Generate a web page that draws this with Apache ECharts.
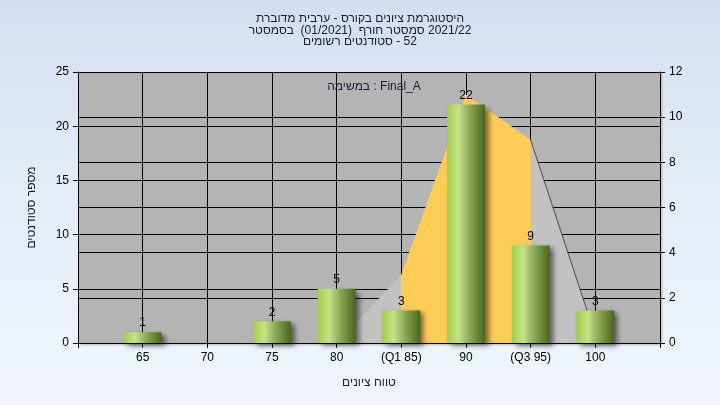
<!DOCTYPE html>
<html>
<head>
<meta charset="utf-8">
<script src="https://cdn.jsdelivr.net/npm/echarts@6/dist/echarts.min.js"></script>
<style>
html,body{margin:0;padding:0;}
#c{width:720px;height:405px;background:linear-gradient(180deg,#d3dff0 0%,#e4edf8 50%,#f1f6fc 100%);}
</style>
</head>
<body>
<div id="c"></div>
<script>
// ---- data ----
var grades = [65, 70, 75, 80, 85, 90, 95, 100];
var counts = [1, 0, 2, 5, 3, 22, 9, 3];
var xTickValues = [65, 70, 75, 80, 85, 90, 95, 100];
var xTickLabels = ['65', '70', '75', '80', '(Q1 85)', '90', '(Q3 95)', '100'];
var curveX = [80, 85, 90, 95, 100];
var curveY = [0, 6.27, 22.9, 18.73, 0.68];
var iqrX = [85, 90, 95];
var iqrY = [6.27, 22.9, 18.73];
var tailX = [95, 100];
var tailY = [18.73, 0.68];
var LRM = '\u200E';
var titleLines = [
  'היסטוגרמת ציונים בקורס - ערבית מדוברת',
  'בסמסטר' + LRM + '  (01/2021)  סמסטר חורף' + LRM + ' 2021/22',
  'סטודנטים רשומים' + LRM + ' - 52'
];
var subText = 'במשימה : Final_A';
var xName = 'טווח ציונים';
var yName = 'מספר סטודנטים';

function pairs(xs, ys) { return xs.map(function (x, i) { return [x, ys[i]]; }); }
var barData = [];
grades.forEach(function (g, i) { if (counts[i] > 0) barData.push([g, counts[i]]); });
var titleText = titleLines.map(function (s) { return LRM + s; }).join('\n');

var FONT = 'Liberation Sans, Arial, sans-serif';
var chart = echarts.init(document.getElementById('c'), null, {renderer: 'canvas'});

chart.setOption({
  backgroundColor: 'transparent',
  animation: false,
  title: [{
    text: titleText,
    left: 'center', top: 8,
    textStyle: {fontFamily: FONT, fontSize: 12, fontWeight: 'normal', color: '#1a1a30', lineHeight: 11.5}
  }, {
    text: LRM + subText,
    left: 369, top: 76, textAlign: 'center',
    textStyle: {fontFamily: FONT, fontSize: 12, fontWeight: 'normal', color: '#1a1a30'}
  }],
  grid: {
    left: 78, right: 60, top: 72, bottom: 62,
    show: true, backgroundColor: '#b4b4b4', borderWidth: 0,
    shadowColor: 'rgba(0,0,0,0.25)', shadowOffsetX: 2, shadowOffsetY: 2, shadowBlur: 2
  },
  xAxis: {
    type: 'value', min: 60, max: 105, interval: 5,
    name: xName, nameLocation: 'middle', nameGap: 34,
    nameTextStyle: {fontFamily: FONT, fontSize: 12, color: '#1a1a30'},
    axisLine: {show: true, lineStyle: {color: '#000', width: 1}},
    axisTick: {show: true, length: 5, lineStyle: {color: '#000'}},
    axisLabel: {
      fontFamily: FONT, fontSize: 12, color: '#000', margin: 9,
      formatter: function (v) { var i = xTickValues.indexOf(v); return i >= 0 ? xTickLabels[i] : ''; }
    },
    splitLine: {show: true, lineStyle: {color: '#000', width: 1}}
  },
  yAxis: [{
    type: 'value', min: 0, max: 25, interval: 5, position: 'left',
    name: yName, nameLocation: 'middle', nameGap: 40,
    nameTextStyle: {fontFamily: FONT, fontSize: 12, color: '#1a1a30'},
    axisLine: {show: true, lineStyle: {color: '#000', width: 1}},
    axisTick: {show: true, length: 5, lineStyle: {color: '#000'}},
    axisLabel: {fontFamily: FONT, fontSize: 12, color: '#000', margin: 9},
    splitLine: {show: true, lineStyle: {color: '#000', width: 1}}
  }, {
    type: 'value', min: 0, max: 12, interval: 2, position: 'right',
    axisLine: {show: true, lineStyle: {color: '#000', width: 1}},
    axisTick: {show: true, length: 5, lineStyle: {color: '#000'}},
    axisLabel: {fontFamily: FONT, fontSize: 12, color: '#000', margin: 9},
    splitLine: {show: true, lineStyle: {color: '#000', width: 1}}
  }],
  series: [{
    type: 'line', yAxisIndex: 0, data: pairs(curveX, curveY),
    showSymbol: false, symbol: 'none', silent: true, z: 1,
    lineStyle: {width: 0, opacity: 0},
    areaStyle: {color: '#c2c2c2', opacity: 1}
  }, {
    type: 'line', yAxisIndex: 0, data: pairs(iqrX, iqrY),
    showSymbol: false, symbol: 'none', silent: true, z: 2,
    lineStyle: {width: 0, opacity: 0},
    areaStyle: {color: '#ffcc55', opacity: 1}
  }, {
    type: 'line', yAxisIndex: 0, data: pairs(tailX, tailY),
    showSymbol: false, symbol: 'none', silent: true, z: 3,
    lineStyle: {width: 1, color: '#4a4a4a'}
  }, {
    type: 'bar', yAxisIndex: 0, data: barData, barWidth: 38, z: 4,
    itemStyle: {
      color: new echarts.graphic.LinearGradient(0, 0, 1, 0, [
        {offset: 0, color: '#a2ce45'},
        {offset: 0.3, color: '#c6e28a'},
        {offset: 0.6, color: '#8aa852'},
        {offset: 1, color: '#4a661e'}
      ]),
      shadowColor: 'rgba(0,0,0,0.5)', shadowBlur: 5, shadowOffsetX: 4, shadowOffsetY: 3
    },
    label: {
      show: true, position: 'top', distance: 3,
      fontFamily: FONT, fontSize: 12, color: '#000'
    }
  }]
});
</script>
</body>
</html>
